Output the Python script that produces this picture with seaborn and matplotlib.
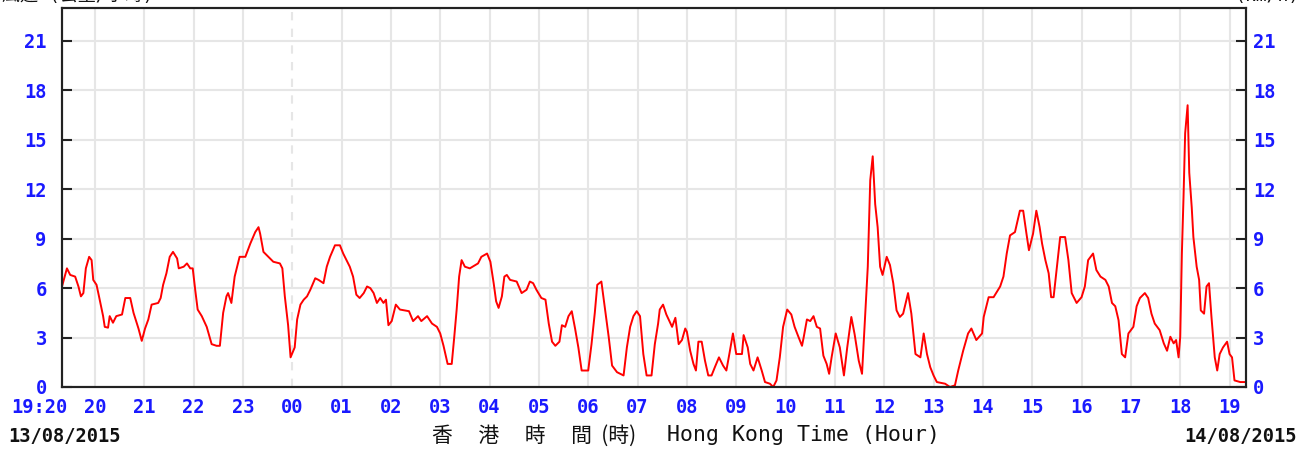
import matplotlib
matplotlib.use("Agg")
import matplotlib.pyplot as plt
import matplotlib.transforms as mtransforms
import pandas as pd
import seaborn as sns

# 10-min mean wind speed (HH:MM, km/h), 13/08/2015 19:20 -> 14/08/2015 19:20
times = [
    "19:20", "19:26", "19:30", "19:36", "19:40", "19:43", "19:46", "19:49", "19:53", "19:56",
    "19:58", "20:02", "20:05", "20:10", "20:12", "20:16", "20:18", "20:22", "20:26", "20:33",
    "20:37", "20:43", "20:47", "20:53", "20:57", "21:01", "21:05", "21:09", "21:17", "21:20",
    "21:23", "21:27", "21:31", "21:35", "21:40", "21:42", "21:48", "21:52", "21:56", "21:59",
    "22:02", "22:05", "22:10", "22:16", "22:22", "22:28", "22:32", "22:36", "22:40", "22:42",
    "22:46", "22:50", "22:56", "23:03", "23:09", "23:15", "23:19", "23:21", "23:25", "23:31",
    "23:37", "23:45", "23:48", "23:51", "23:55", "23:58", "00:03", "00:06", "00:10", "00:14",
    "00:18", "00:22", "00:28", "00:32", "00:38", "00:42", "00:46", "00:52", "00:58", "01:02",
    "01:10", "01:14", "01:18", "01:22", "01:27", "01:31", "01:35", "01:39", "01:43", "01:47",
    "01:51", "01:54", "01:57", "02:01", "02:06", "02:11", "02:22", "02:27", "02:33", "02:37",
    "02:44", "02:50", "02:56", "03:00", "03:04", "03:09", "03:14", "03:17", "03:20", "03:23",
    "03:26", "03:30", "03:36", "03:46", "03:50", "03:57", "04:01", "04:05", "04:08", "04:11",
    "04:15", "04:18", "04:21", "04:25", "04:33", "04:39", "04:45", "04:49", "04:53", "04:57",
    "05:03", "05:08", "05:12", "05:16", "05:20", "05:25", "05:28", "05:32", "05:36", "05:40",
    "05:44", "05:48", "05:52", "06:00", "06:04", "06:08", "06:11", "06:16", "06:20", "06:25",
    "06:29", "06:35", "06:43", "06:47", "06:51", "06:55", "06:59", "07:03", "07:07", "07:11",
    "07:17", "07:21", "07:25", "07:27", "07:31", "07:35", "07:42", "07:46", "07:50", "07:54",
    "07:58", "08:00", "08:04", "08:08", "08:11", "08:14", "08:18", "08:22", "08:26", "08:30",
    "08:34", "08:39", "08:44", "08:48", "08:52", "08:56", "09:00", "09:07", "09:09", "09:14",
    "09:17", "09:21", "09:26", "09:31", "09:35", "09:41", "09:45", "09:49", "09:53", "09:57",
    "10:02", "10:07", "10:11", "10:16", "10:20", "10:22", "10:26", "10:30", "10:34", "10:38",
    "10:42", "10:46", "10:50", "10:53", "10:56", "11:01", "11:06", "11:11", "11:15", "11:20",
    "11:24", "11:29", "11:33", "11:37", "11:40", "11:43", "11:46", "11:49", "11:52", "11:55",
    "11:58", "12:03", "12:07", "12:11", "12:15", "12:19", "12:23", "12:29", "12:33", "12:38",
    "12:44", "12:48", "12:52", "12:56", "13:00", "13:04", "13:14", "13:20", "13:26", "13:30",
    "13:36", "13:42", "13:46", "13:52", "13:59", "14:01", "14:07", "14:13", "14:21", "14:25",
    "14:29", "14:33", "14:39", "14:45", "14:49", "14:53", "14:56", "15:01", "15:05", "15:09",
    "15:12", "15:16", "15:20", "15:23", "15:26", "15:30", "15:34", "15:40", "15:44", "15:48",
    "15:54", "16:00", "16:04", "16:08", "16:14", "16:18", "16:23", "16:29", "16:33", "16:37",
    "16:41", "16:45", "16:49", "16:53", "16:57", "17:03", "17:07", "17:11", "17:17", "17:21",
    "17:25", "17:29", "17:35", "17:40", "17:44", "17:48", "17:52", "17:55", "17:58", "18:00",
    "18:02", "18:04", "18:06", "18:09", "18:11", "18:14", "18:16", "18:20", "18:23", "18:25",
    "18:29", "18:32", "18:35", "18:38", "18:42", "18:45", "18:48", "18:52", "18:57", "19:00",
    "19:03", "19:06", "19:13", "19:20",
]
speeds = [
    6.1, 7.2, 6.8, 6.7, 6.1, 5.5, 5.7, 7.2, 7.9, 7.7,
    6.5, 6.2, 5.5, 4.3, 3.65, 3.6, 4.3, 3.9, 4.3, 4.4,
    5.4, 5.4, 4.5, 3.55, 2.8, 3.55, 4.1, 5.0, 5.1, 5.4,
    6.2, 6.9, 7.9, 8.2, 7.8, 7.2, 7.3, 7.5, 7.2, 7.2,
    5.9, 4.7, 4.3, 3.65, 2.6, 2.5, 2.5, 4.5, 5.5, 5.7,
    5.1, 6.7, 7.9, 7.9, 8.7, 9.4, 9.7, 9.3, 8.2, 7.9,
    7.6, 7.5, 7.2, 5.5, 3.75, 1.8, 2.4, 4.1, 5.0, 5.3,
    5.5, 5.9, 6.6, 6.5, 6.3, 7.3, 7.9, 8.6, 8.6, 8.1,
    7.3, 6.7, 5.6, 5.4, 5.7, 6.1, 6.0, 5.7, 5.1, 5.4,
    5.1, 5.3, 3.75, 4.0, 5.0, 4.7, 4.6, 4.0, 4.3, 4.0,
    4.3, 3.85, 3.65, 3.25, 2.5, 1.4, 1.4, 3.0, 4.7, 6.7,
    7.7, 7.3, 7.2, 7.5, 7.9, 8.1, 7.6, 6.3, 5.2, 4.8,
    5.5, 6.7, 6.8, 6.5, 6.4, 5.7, 5.9, 6.4, 6.3, 5.9,
    5.4, 5.3, 3.85, 2.75, 2.5, 2.75, 3.75, 3.65, 4.3, 4.6,
    3.55, 2.4, 1.0, 1.0, 2.6, 4.5, 6.2, 6.4, 4.9, 3.0,
    1.3, 0.9, 0.7, 2.4, 3.65, 4.3, 4.6, 4.3, 2.0, 0.7,
    0.7, 2.6, 3.85, 4.7, 5.0, 4.4, 3.65, 4.2, 2.6, 2.85,
    3.55, 3.35, 2.2, 1.4, 1.0, 2.75, 2.75, 1.6, 0.7, 0.7,
    1.2, 1.8, 1.3, 1.0, 2.1, 3.25, 2.0, 2.0, 3.15, 2.4,
    1.4, 1.0, 1.8, 1.0, 0.3, 0.2, 0.0, 0.4, 1.8, 3.65,
    4.7, 4.4, 3.65, 3.0, 2.5, 3.0, 4.1, 4.0, 4.3, 3.65,
    3.55, 1.9, 1.4, 0.8, 1.8, 3.25, 2.4, 0.7, 2.4, 4.25,
    3.2, 1.6, 0.8, 4.45, 7.3, 12.55, 14.0, 11.1, 9.7, 7.3,
    6.8, 7.9, 7.4, 6.3, 4.65, 4.25, 4.45, 5.7, 4.45, 2.0,
    1.8, 3.25, 2.0, 1.2, 0.7, 0.3, 0.2, 0.0, 0.1, 1.0,
    2.2, 3.25, 3.55, 2.85, 3.25, 4.25, 5.45, 5.45, 6.1, 6.7,
    8.1, 9.2, 9.4, 10.7, 10.7, 9.3, 8.3, 9.3, 10.7, 9.7,
    8.7, 7.7, 6.9, 5.45, 5.45, 7.3, 9.1, 9.1, 7.7, 5.7,
    5.1, 5.45, 6.1, 7.7, 8.1, 7.1, 6.7, 6.5, 6.1, 5.1,
    4.9, 4.05, 2.0, 1.8, 3.25, 3.65, 4.9, 5.4, 5.7, 5.4,
    4.45, 3.85, 3.45, 2.65, 2.2, 3.05, 2.65, 2.85, 1.8, 3.05,
    8.1, 11.5, 15.4, 17.1, 13.0, 10.9, 9.1, 7.3, 6.5, 4.65,
    4.45, 6.1, 6.3, 4.25, 1.8, 1.0, 2.0, 2.4, 2.75, 2.0,
    1.8, 0.4, 0.3, 0.3,
]

hour_ticks = list(range(20, 44))
x_tick_labels = ["19:20"] + [f"{h % 24:02d}" for h in hour_ticks]
y_ticks = [0, 3, 6, 9, 12, 15, 18, 21]
start_date = "13/08/2015"
end_date = "14/08/2015"
x_title_zh = "香\u3000 港\u3000 時\u3000 間  (時)"
x_title_en = "Hong Kong Time (Hour)"

# turn clock times into hours counted from 00:00 of the first day
hours = []
offset = 0
prev = None
for t in times:
    hh, mm = map(int, t.split(":"))
    val = hh + mm / 60
    if prev is not None and val < prev:
        offset += 24
    prev = val
    hours.append(val + offset)
df = pd.DataFrame({"hour": hours, "speed": speeds})

sns.set_style("white")
plt.rcParams["font.family"] = ["DejaVu Sans Mono", "Noto Sans CJK TC"]

W, H = 1315, 450
fig = plt.figure(figsize=(W / 100, H / 100), dpi=100)
ax = fig.add_axes([62 / W, 1 - 387 / H, (1246 - 62) / W, (387 - 8) / H])

sns.lineplot(data=df, x="hour", y="speed", ax=ax, color="#ff0000", lw=1.4,
             estimator=None)

x0 = 19 + 20 / 60
ax.set_xlim(x0, x0 + 24)
ax.set_ylim(0, 23)
ax.set_xticks([x0] + hour_ticks)
ax.set_xticklabels(x_tick_labels)
ax.set_yticks(y_ticks)
ax.set_xlabel("")
ax.set_ylabel("")

ax.grid(True, color="#e6e6e6", lw=1.5)
ax.set_axisbelow(True)
# midnight gridline is dashed
ax.xaxis.get_gridlines()[hour_ticks.index(24) + 1].set_linestyle((0, (4, 4)))

blue = "#1a1aff"
tick_font = dict(family="DejaVu Sans Mono", weight="bold", size=13.5)
ax.tick_params(axis="x", direction="in", length=5, width=1.5, color="#222222",
               labelcolor=blue, pad=8)
ax.tick_params(axis="y", direction="in", length=7, width=1.5, color="#222222",
               labelcolor=blue, pad=11, left=True)
for lab in ax.get_xticklabels() + ax.get_yticklabels():
    lab.set_fontproperties(tick_font)
first = ax.get_xticklabels()[0]
first.set_ha("right")
first.set_transform(first.get_transform() + mtransforms.ScaledTranslation(6 / 100, 0, fig.dpi_scale_trans))

ax2 = ax.twinx()
ax2.set_ylim(0, 23)
ax2.set_yticks(y_ticks)
ax2.tick_params(axis="y", direction="in", length=7, width=1.5, color="#222222",
                labelcolor=blue, pad=5)
for lab in ax2.get_yticklabels():
    lab.set_fontproperties(tick_font)

for a in (ax, ax2):
    for s in a.spines.values():
        s.set_color("#222222")
        s.set_linewidth(1.5)

fig.text(8 / W, 1 - 437 / H, start_date, ha="left", va="center", color="#111111", **tick_font)
fig.text(1297 / W, 1 - 437 / H, end_date, ha="right", va="center", color="#111111", **tick_font)
fig.text(432 / W, 1 - 436 / H, x_title_zh, ha="left", va="center", color="#111111",
         size=15, family="Noto Sans CJK TC")
fig.text(667 / W, 1 - 435 / H, x_title_en, ha="left", va="center", color="#111111",
         size=15.5, family="DejaVu Sans Mono")
# units, cut off by the top edge as in the original
fig.text(1300 / W, 1 - 1 / H, "(km/h)", ha="right", va="baseline", color="#111111",
         size=13, family="DejaVu Sans Mono")
fig.text(2 / W, 1 - 1 / H, "風速 (公里/小時)", ha="left", va="baseline", color="#111111",
         size=13, family=["DejaVu Sans Mono", "Noto Sans CJK TC"])

fig.savefig("out.png", dpi=100)
